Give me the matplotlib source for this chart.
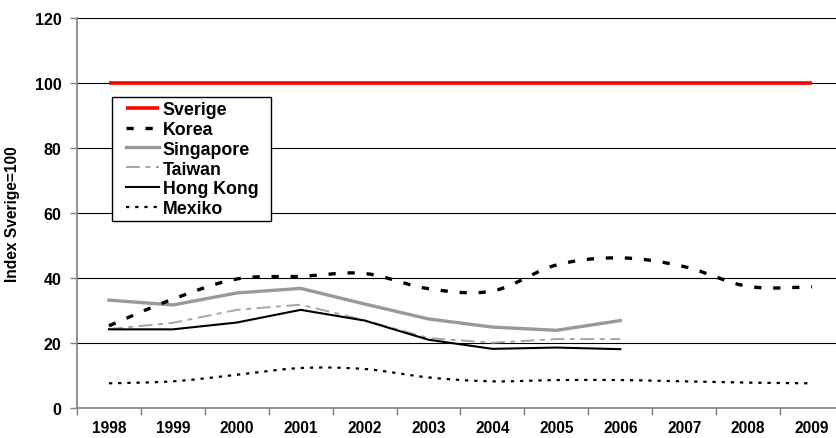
import numpy as np
import matplotlib
matplotlib.use("Agg")
import matplotlib.pyplot as plt
from matplotlib.patches import Rectangle

plt.rcParams['font.family'] = ['Liberation Sans', 'DejaVu Sans']
plt.rcParams['font.weight'] = 'bold'
plt.rcParams['lines.scale_dashes'] = False

years = ['1998', '1999', '2000', '2001', '2002', '2003', '2004', '2005',
         '2006', '2007', '2008', '2009']
sverige = [100, 100, 100, 100, 100, 100, 100, 100, 100, 100, 100, 100]
korea = [25.3, 33.5, 39.7, 40.5, 41.4, 36.7, 36.0, 44.0, 46.2, 43.5, 37.4, 37.3]
singapore = [33.2, 31.7, 35.4, 36.8, 32.0, 27.4, 24.9, 23.9, 26.9]
taiwan = [24.3, 26.2, 30.2, 31.8, 27.0, 21.5, 20.1, 21.2, 21.2]
hongkong = [24.2, 24.2, 26.3, 30.2, 26.9, 21.0, 18.2, 18.6, 18.1]
mexiko = [7.6, 8.2, 10.2, 12.3, 12.0, 9.4, 8.2, 8.6, 8.6, 8.2, 7.8, 7.6]


def smooth(vals, n=20):
    """Catmull-Rom curve through the points (like Excel's smoothed line)."""
    x = np.arange(len(vals), dtype=float)
    y = np.asarray(vals, dtype=float)
    px = np.concatenate([[x[0]], x, [x[-1]]])
    py = np.concatenate([[y[0]], y, [y[-1]]])
    xs, ys = [], []
    t = np.linspace(0, 1, n, endpoint=False)
    for i in range(1, len(px) - 2):
        p0x, p1x, p2x, p3x = px[i - 1], px[i], px[i + 1], px[i + 2]
        p0y, p1y, p2y, p3y = py[i - 1], py[i], py[i + 1], py[i + 2]
        c1x, c1y = p1x + (p2x - p0x) / 6, p1y + (p2y - p0y) / 6
        c2x, c2y = p2x - (p3x - p1x) / 6, p2y - (p3y - p1y) / 6
        bx = (1 - t) ** 3 * p1x + 3 * (1 - t) ** 2 * t * c1x + 3 * (1 - t) * t ** 2 * c2x + t ** 3 * p2x
        by = (1 - t) ** 3 * p1y + 3 * (1 - t) ** 2 * t * c1y + 3 * (1 - t) * t ** 2 * c2y + t ** 3 * p2y
        xs.extend(bx)
        ys.extend(by)
    xs.append(x[-1])
    ys.append(y[-1])
    return np.array(xs), np.array(ys)


W, H = 836, 439
fig = plt.figure(figsize=(W / 100, H / 100), dpi=100)
AX_L, AX_R, AX_T, AX_B = 77, 844, 19, 409
ax = fig.add_axes([AX_L / W, (H - AX_B) / H, (AX_R - AX_L) / W, (AX_B - AX_T) / H])


def axfrac(px, py):
    return (px - AX_L) / (AX_R - AX_L), (AX_B - py) / (AX_B - AX_T)


xs = np.arange(len(years))

ax.plot(xs, sverige, color='#ff0000', lw=2.6, solid_capstyle='butt', label='Sverige', zorder=5)
kx, ky = smooth(korea)
ax.plot(kx, ky, color='black', lw=2.4, dashes=(5.2, 8.5), dash_capstyle='butt', label='Korea', zorder=4)
ax.plot(xs[:len(singapore)], singapore, color='#999999', lw=2.4, label='Singapore', zorder=3)
ax.plot(xs[:len(taiwan)], taiwan, color='#a6a6a6', lw=1.4, dashes=(10, 4, 3.5, 4),
        dash_capstyle='butt', label='Taiwan', zorder=3)
ax.plot(xs[:len(hongkong)], hongkong, color='black', lw=1.5, label='Hong Kong', zorder=4)
mx, my = smooth(mexiko)
ax.plot(mx, my, color='black', lw=1.6, dashes=(2.4, 4.2), dash_capstyle='butt', label='Mexiko', zorder=4)

ax.set_xlim(-0.5, len(years) - 0.5)
ax.set_ylim(0, 120)
ax.set_yticks(np.arange(0, 121, 20))
ax.set_xticks(xs)
ax.set_xticklabels(years, fontsize=11.2, fontweight='bold')
ax.set_xticks(np.arange(-0.5, len(years)), minor=True)
ax.tick_params(axis='x', which='major', length=0, pad=9)
ax.tick_params(axis='x', which='minor', length=5, width=1, color='#808080', direction='out')
ax.tick_params(axis='y', length=5, width=1, color='#808080', pad=6, labelsize=11.5)
for lab in ax.get_yticklabels():
    lab.set_fontweight('bold')

ax.grid(axis='y', color='black', lw=0.8, zorder=0)
ax.set_axisbelow(True)
for s in ['top', 'right']:
    ax.spines[s].set_visible(False)
ax.spines['left'].set_color('#808080')
ax.spines['bottom'].set_color('#808080')
ax.spines['left'].set_linewidth(1.2)
ax.spines['bottom'].set_linewidth(1.2)

ax.set_ylabel('Index Sverige=100', fontsize=11.2, fontweight='bold')
ax.yaxis.set_label_coords(-(AX_L - 20) / (AX_R - AX_L), 0.5)

# legend frame
fx0, fy0 = axfrac(112, 222)
fx1, fy1 = axfrac(271, 98)
ax.add_patch(Rectangle((fx0, fy0), fx1 - fx0, fy1 - fy0, transform=ax.transAxes,
                       facecolor='white', edgecolor='black', lw=1.0, zorder=6))

leg = ax.legend(loc='upper left', bbox_to_anchor=axfrac(126, 102),
                borderaxespad=0, fontsize=12.8, frameon=False,
                handlelength=1.85, handletextpad=0.22,
                labelspacing=0.16, borderpad=0)
leg.set_zorder(7)
for t in leg.get_texts():
    t.set_fontweight('bold')

fig.savefig('out.png', dpi=100)
